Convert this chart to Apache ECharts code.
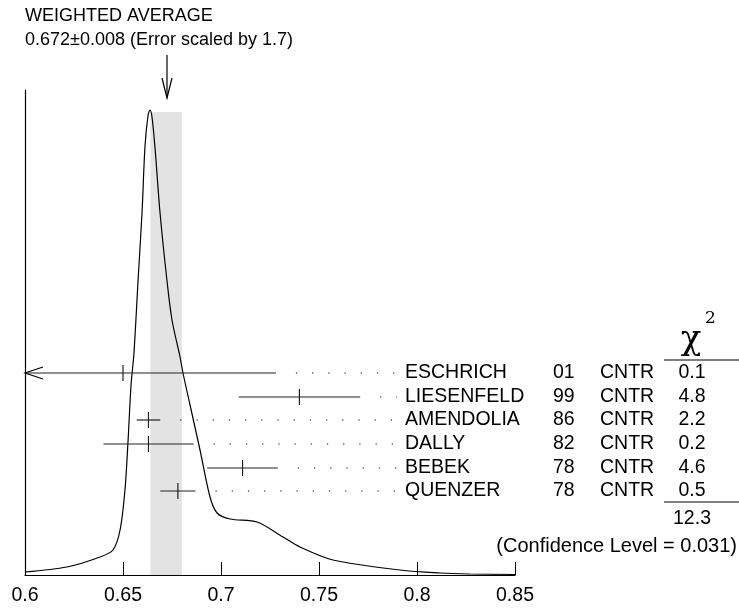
<!DOCTYPE html>
<html><head><meta charset="utf-8">
<script src="https://cdn.jsdelivr.net/npm/echarts@6/dist/echarts.min.js"></script>
<style>body{margin:0}#c{width:739px;height:608px}</style></head>
<body><div id="c"></div>
<script>
const names = ['ESCHRICH','LIESENFELD','AMENDOLIA','DALLY','BEBEK','QUENZER'];
const years = ['01','99','86','82','78','78'];
const techs = ['CNTR','CNTR','CNTR','CNTR','CNTR','CNTR'];
const chi2 = ['0.1','4.8','2.2','0.2','4.6','0.5'];
const values = [0.650, 0.740, 0.663, 0.663, 0.711, 0.678];
const errors = [0.078, 0.031, 0.006, 0.023, 0.018, 0.009];
const rowY = [202, 178, 155, 131, 107, 84];
const curveX = [0.6,0.6214,0.6383,0.6449,0.6485,0.651,0.6526,0.6541,0.6556,0.6577,0.6597,0.6612,0.6628,0.6638,0.6648,0.6663,0.6689,0.6724,0.675,0.6791,0.6806,0.6842,0.6893,0.6944,0.698,0.7046,0.7184,0.7316,0.7403,0.7571,0.7913,0.8117,0.827,0.85];
const curveY = [3,8,18,25,45,85,135,190,222,295,362,428,460,465,458,428,362,295,255,218,202,170,125,78,62,56,53,38,28,15,5,2,1,0.5];
const avg = 0.672, avgErr = 0.008;

const chart = echarts.init(document.getElementById('c'));
const F = 'Liberation Sans, Arial, sans-serif';
const FS = 19.5;
function txt(x,y,t,align){return {type:'text',x:x,y:y,style:{text:t,fontSize:FS,fontFamily:F,fill:'#000',verticalAlign:'middle',align:align||'left'}};}
chart.setOption({
  animation:false,
  grid:{left:25,right:224,top:90,bottom:33},
  xAxis:{type:'value',min:0.6,max:0.85,interval:0.05,
    axisLine:{lineStyle:{color:'#000',width:1.2}},
    axisTick:{inside:true,length:13,lineStyle:{color:'#000'}},
    splitLine:{show:false},
    axisLabel:{color:'#000',fontSize:FS,fontFamily:F,margin:11,formatter:v=>String(+v.toFixed(2))}},
  yAxis:{type:'value',min:0,max:485,show:true,axisLine:{show:true,lineStyle:{color:'#000',width:1.2}},
    axisTick:{show:false},axisLabel:{show:false},splitLine:{show:false}},
  series:[
    {type:'custom',z:1,data:[[avg-avgErr,avg+avgErr]],renderItem:(p,api)=>{
      const a=api.coord([api.value(0),463]),b=api.coord([api.value(1),0]);
      return {type:'rect',shape:{x:a[0],y:a[1],width:b[0]-a[0],height:b[1]-a[1]},style:{fill:'#e3e3e3'}};
    }},
    {type:'line',z:3,data:curveX.map((x,i)=>[x,curveY[i]]),smooth:0.3,showSymbol:false,
      lineStyle:{color:'#000',width:1.2}},
    {type:'custom',z:4,data:values.map((v,i)=>[v,errors[i],rowY[i],i]),renderItem:(p,api)=>{
      const v=api.value(0),e=api.value(1),y=api.value(2),i=api.value(3);
      const c=api.coord([v,y]);
      const lo=api.coord([Math.max(0.6,v-e),y]),hi=api.coord([v+e,y]);
      const ls={stroke:'#222',lineWidth:1.2};
      const ch=[
        {type:'line',shape:{x1:lo[0],y1:c[1],x2:hi[0],y2:c[1]},style:ls},
        {type:'line',shape:{x1:c[0],y1:c[1]-8,x2:c[0],y2:c[1]+8},style:ls},
        {type:'line',shape:{x1:hi[0]+20,y1:c[1],x2:397,y2:c[1]},style:{stroke:'#000',lineWidth:1.2,lineDash:[1.2,15]}},
        txt(405,c[1],names[i]), txt(553,c[1],years[i]), txt(600,c[1],techs[i]), txt(692,c[1],chi2[i],'center')
      ];
      if(v-e<0.6){ch.push({type:'polyline',shape:{points:[[lo[0]+18,c[1]-6],[lo[0],c[1]],[lo[0]+18,c[1]+6]]},style:{stroke:'#000',lineWidth:1.2,fill:null}});}
      return {type:'group',children:ch};
    }}
  ],
  graphic:[
    {type:'text',left:25,top:7,style:{text:'WEIGHTED AVERAGE',fontSize:18,fontFamily:F,fill:'#000'}},
    {type:'text',left:25,top:31,style:{text:'0.672±0.008 (Error scaled by 1.7)',fontSize:18,fontFamily:F,fill:'#000'}},
    {type:'line',shape:{x1:167,y1:55,x2:167,y2:98},style:{stroke:'#000',lineWidth:1.2}},
    {type:'polyline',shape:{points:[[162,78],[167,98],[172,78]]},style:{stroke:'#000',lineWidth:1.2,fill:null}},
    {type:'text',x:691,y:357,style:{text:'χ',fontSize:34,fontFamily:'DejaVu Serif, serif',fill:'#000',align:'center',verticalAlign:'bottom'}},
    {type:'text',x:705,y:310,style:{text:'2',fontSize:17,fontFamily:'DejaVu Serif, serif',fill:'#000'}},
    {type:'line',shape:{x1:664,y1:360,x2:739,y2:360},style:{stroke:'#000',lineWidth:1.2}},
    {type:'line',shape:{x1:664,y1:502,x2:739,y2:502},style:{stroke:'#000',lineWidth:1.2}},
    {type:'text',x:692,y:519,style:{text:'12.3',fontSize:FS,fontFamily:F,fill:'#000',align:'center',verticalAlign:'middle'}},
    {type:'text',x:737,y:546,style:{text:'(Confidence Level = 0.031)',fontSize:20,fontFamily:F,fill:'#000',align:'right',verticalAlign:'middle'}}
  ]
});
</script></body></html>
